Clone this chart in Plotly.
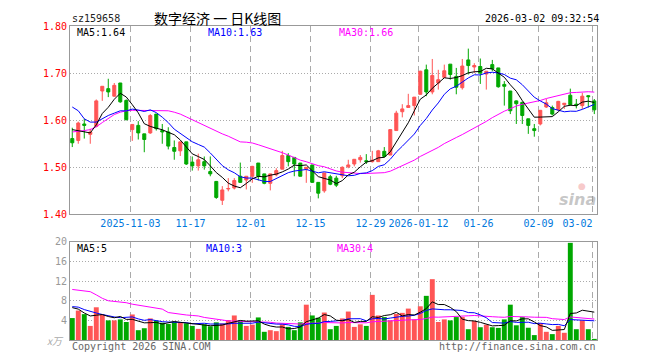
import plotly.graph_objects as go
import pandas as pd

# ---------------- data ----------------
opens = [1.561, 1.557, 1.592, 1.570, 1.587, 1.662, 1.667, 1.651, 1.679, 1.642,
         1.580, 1.589, 1.571, 1.573, 1.613, 1.578, 1.575, 1.542, 1.535, 1.554,
         1.511, 1.503, 1.512, 1.491, 1.470, 1.430, 1.454, 1.456, 1.481, 1.473,
         1.481, 1.509, 1.486, 1.466, 1.484, 1.496, 1.525, 1.521, 1.509, 1.496,
         1.505, 1.468, 1.450, 1.480, 1.477, 1.482, 1.501, 1.507, 1.516, 1.514,
         1.512, 1.512, 1.534, 1.526, 1.578, 1.618, 1.627, 1.631, 1.655, 1.707,
         1.660, 1.679, 1.691, 1.719, 1.693, 1.669, 1.728, 1.713, 1.714, 1.698,
         1.718, 1.711, 1.676, 1.662, 1.641, 1.638, 1.603, 1.582, 1.592, 1.628,
         1.627, 1.622, 1.633, 1.653, 1.634, 1.631, 1.652, 1.641]
highs = [1.584, 1.597, 1.603, 1.582, 1.644, 1.672, 1.688, 1.679, 1.679, 1.644,
         1.591, 1.598, 1.571, 1.613, 1.613, 1.592, 1.585, 1.557, 1.554, 1.554,
         1.523, 1.529, 1.523, 1.523, 1.471, 1.460, 1.477, 1.477, 1.510, 1.481,
         1.503, 1.509, 1.486, 1.486, 1.498, 1.535, 1.530, 1.521, 1.509, 1.500,
         1.505, 1.468, 1.488, 1.484, 1.482, 1.502, 1.516, 1.517, 1.526, 1.528,
         1.535, 1.537, 1.543, 1.580, 1.620, 1.634, 1.656, 1.649, 1.705, 1.718,
         1.730, 1.707, 1.718, 1.719, 1.711, 1.730, 1.752, 1.721, 1.731, 1.704,
         1.728, 1.711, 1.683, 1.662, 1.642, 1.638, 1.603, 1.592, 1.621, 1.645,
         1.631, 1.641, 1.636, 1.667, 1.645, 1.658, 1.653, 1.645]
lows = [1.543, 1.550, 1.561, 1.550, 1.585, 1.641, 1.649, 1.650, 1.637, 1.600,
        1.556, 1.559, 1.532, 1.571, 1.578, 1.550, 1.538, 1.516, 1.524, 1.505,
        1.493, 1.493, 1.495, 1.481, 1.433, 1.420, 1.449, 1.453, 1.467, 1.453,
        1.467, 1.472, 1.464, 1.451, 1.481, 1.496, 1.502, 1.481, 1.481, 1.467,
        1.467, 1.434, 1.446, 1.462, 1.458, 1.477, 1.498, 1.502, 1.510, 1.507,
        1.510, 1.512, 1.521, 1.526, 1.578, 1.606, 1.626, 1.610, 1.654, 1.651,
        1.655, 1.665, 1.690, 1.686, 1.655, 1.665, 1.697, 1.700, 1.677, 1.665,
        1.704, 1.669, 1.631, 1.613, 1.592, 1.592, 1.571, 1.565, 1.589, 1.626,
        1.610, 1.620, 1.624, 1.631, 1.625, 1.624, 1.627, 1.613]
closes = [1.552, 1.594, 1.589, 1.575, 1.641, 1.672, 1.660, 1.674, 1.639, 1.601,
          1.591, 1.573, 1.559, 1.610, 1.582, 1.575, 1.545, 1.534, 1.554, 1.507,
          1.503, 1.516, 1.503, 1.486, 1.436, 1.452, 1.455, 1.472, 1.468, 1.481,
          1.502, 1.481, 1.466, 1.486, 1.493, 1.525, 1.512, 1.507, 1.481, 1.500,
          1.468, 1.445, 1.488, 1.464, 1.462, 1.500, 1.505, 1.517, 1.521, 1.512,
          1.515, 1.535, 1.523, 1.580, 1.615, 1.624, 1.631, 1.649, 1.704, 1.660,
          1.695, 1.686, 1.705, 1.697, 1.670, 1.715, 1.716, 1.716, 1.700, 1.704,
          1.709, 1.671, 1.672, 1.620, 1.635, 1.610, 1.589, 1.578, 1.621, 1.637,
          1.613, 1.640, 1.636, 1.633, 1.632, 1.651, 1.650, 1.622]
# volume in 万
volumes = [4.47, 6.0, 5.27, 2.87, 6.67, 5.13, 4.0, 4.0, 4.2, 3.67,
           5.2, 2.0, 2.4, 4.4, 3.93, 3.53, 3.27, 3.73, 3.53, 3.4,
           2.87, 2.27, 3.2, 2.8, 3.6, 3.33, 4.07, 5.0, 3.93, 2.87,
           3.13, 4.6, 1.67, 2.0, 1.8, 3.2, 2.67, 2.0, 3.6, 7.2,
           5.0, 4.53, 5.6, 2.2, 2.87, 4.4, 5.8, 2.67, 3.2, 2.87,
           9.2, 5.0, 4.67, 4.0, 5.33, 5.53, 6.4, 4.2, 6.87, 9.0,
           12.4, 3.67, 4.2, 4.0, 4.67, 4.67, 2.2, 3.87, 2.6, 3.13,
           2.6, 2.47, 4.2, 7.2, 3.0, 4.67, 2.5, 1.0, 3.47, 1.67,
           1.2, 2.87, 1.47, 19.8, 2.2, 4.0, 2.2, 0.2]

# moving-average values at the start of the window (history before the first bar)
ma5_head = [1.580, 1.578, 1.575, 1.573]
ma10_head = [1.628, 1.620, 1.603, 1.596, 1.596, 1.603, 1.610, 1.615, 1.620]
ma30_head = [1.575, 1.576, 1.578, 1.580, 1.586, 1.595, 1.604, 1.612, 1.617, 1.620,
             1.621, 1.621, 1.621, 1.621, 1.621, 1.621, 1.620, 1.617, 1.613, 1.607,
             1.601, 1.595, 1.589, 1.582, 1.576, 1.571, 1.566, 1.560, 1.554]
vma5_head = [6.6, 6.3, 5.5, 4.9]
vma10_head = [6.8, 6.7, 6.2, 5.8, 5.5, 5.2, 4.9, 4.7, 4.55]
vma30_head = [10.3, 10.1, 10.0, 9.85, 9.2, 8.5, 8.0, 7.9, 7.8, 7.6,
              7.3, 7.1, 6.95, 6.8, 6.6, 6.3, 5.6, 5.4, 5.15, 5.1,
              5.0, 4.9, 4.6, 4.4, 4.2, 4.0, 3.9, 3.85, 3.8]

tick_index = [10, 20, 30, 40, 50, 58, 68, 78, 87]
tick_labels = ["2025-11-03", "11-17", "12-01", "12-15", "12-29",
               "2026-01-12", "01-26", "02-09", "03-02"]
price_ticks = [1.40, 1.50, 1.60, 1.70, 1.80]
vol_ticks = [4, 8, 12, 16, 20]

code = "sz159658"
title = "数字经济 一 日K线图"
stamp = "2026-03-02 09:32:54"


def moving(values, n, head):
    s = pd.Series(values).rolling(n).mean().tolist()
    return head + s[len(head):]


ma5 = moving(closes, 5, ma5_head)
ma10 = moving(closes, 10, ma10_head)
ma30 = moving(closes, 30, ma30_head)
vma5 = moving(volumes, 5, vma5_head)
vma10 = moving(volumes, 10, vma10_head)
vma30 = moving(volumes, 30, vma30_head)

RED = "#FF5555"
GREEN = "#00A800"
MONO = "DejaVu Sans Mono"

idx = list(range(len(closes)))
vol_colors = [RED if c >= o else GREEN for o, c in zip(opens, closes)]

fig = go.Figure()
fig.add_trace(go.Candlestick(
    x=idx, open=opens, high=highs, low=lows, close=closes,
    increasing=dict(line=dict(color=RED, width=1), fillcolor=RED),
    decreasing=dict(line=dict(color=GREEN, width=1), fillcolor=GREEN),
    whiskerwidth=0, xaxis="x", yaxis="y", hoverinfo="skip"))
for vals, col in [(ma30, "#FF00FF"), (ma10, "#0000FF"), (ma5, "#000000")]:
    fig.add_trace(go.Scatter(x=idx, y=vals, mode="lines", line=dict(color=col, width=1),
                             xaxis="x", yaxis="y", hoverinfo="skip"))

fig.add_trace(go.Bar(x=idx, y=volumes, marker=dict(color=vol_colors, line=dict(width=0)),
                     width=0.82, xaxis="x2", yaxis="y2", hoverinfo="skip"))
for vals, col in [(vma30, "#FF00FF"), (vma10, "#0000FF"), (vma5, "#000000")]:
    fig.add_trace(go.Scatter(x=idx, y=vals, mode="lines", line=dict(color=col, width=1),
                             xaxis="x2", yaxis="y2", hoverinfo="skip"))

# page has an 8px default body margin: the figure starts at page (8, 8)
OFF = 8
W, H = 652, 352
PL, PR, PT, PB = 70, 597, 20, 340          # plot area in page pixels
L, R, T, B = PL - OFF, OFF + W - PR, PT - OFF, OFF + H - PB
PW, PH = PR - PL, PB - PT


def px(x):
    return (x - PL) / PW


def py(y):
    return (PB - y) / PH


xr = [-0.38, 87.45]
tv = [i - 0.3 for i in tick_index]
# the last label sits flush left of its grid line, as in the reference
shown_labels = tick_labels[:-1] + [tick_labels[-1] + "\u00a0" * 5]
grid_common = dict(showgrid=True, gridcolor="#AAAAAA", gridwidth=1,
                   showline=True, linecolor="#999999", linewidth=1, mirror=True,
                   zeroline=False, ticks="")

fig.update_layout(
    width=W, height=H, margin=dict(l=L, r=R, t=T, b=B, pad=0),
    paper_bgcolor="white", plot_bgcolor="white", showlegend=False,
    boxgap=0.28,
    xaxis=dict(domain=[0, 1], anchor="y", range=xr, tickvals=tv, ticktext=shown_labels,
               griddash="6px,4px", rangeslider=dict(visible=False),
               tickfont=dict(family=MONO, size=10, color="#0077DD"), **grid_common),
    yaxis=dict(domain=[py(212), 1.0], anchor="x", range=[1.40, 1.80], tickvals=price_ticks,
               ticktext=["%.2f" % v for v in price_ticks], griddash="1px,2px",
               tickfont=dict(family=MONO, size=10, color="#FF0000"), **grid_common),
    xaxis2=dict(domain=[0, 1], anchor="y2", range=xr, tickvals=tv, showticklabels=False,
                griddash="6px,4px", **grid_common),
    yaxis2=dict(domain=[0, py(240)], anchor="x2", range=[0, 20], tickvals=vol_ticks,
                ticktext=[str(v) for v in vol_ticks], griddash="1px,2px",
                tickfont=dict(family=MONO, size=10, color="#999999"), **grid_common),
)


def note(text, x, y, color="#000", size=10, family=MONO, anchor="left", **kw):
    fig.add_annotation(text=text, x=px(x), y=py(y), xref="paper", yref="paper",
                       xanchor=anchor, yanchor="middle", showarrow=False,
                       font=dict(family=family, size=size, color=color), **kw)


note(code, 70, 12, "#222")
note(title, 152, 12, "#000", size=14, family="Noto Sans CJK SC")
note(stamp, 601, 12, "#000", anchor="right")
note("MA5:%.2f" % ma5[-1], 75, 27, "#000")
note("MA10:%.2f" % ma10[-1], 206, 27, "#0000FF")
note("MA30:%.2f" % ma30[-1], 337, 27, "#FF00FF")
note("MA5:%d" % int(vma5[-1]), 75, 247, "#000")
note("MA10:%d" % int(vma10[-1]), 204, 247, "#0000FF")
note("MA30:%d" % int(vma30[-1]), 335, 247, "#FF00FF")
note("<i>x万</i>", 66, 340, "#AAAAAA", anchor="right", family="Noto Sans CJK SC", size=10)
note("Copyright 2026 SINA.COM", 70, 347, "#666666")
note("http://finance.sina.com.cn", 598, 347, "#666666", anchor="right")
note("<b><i>sina</i></b>", 598, 197, "rgba(150,150,150,0.55)", anchor="right",
     family="DejaVu Sans", size=16)
note("●", 582, 183, "rgba(240,150,150,0.5)", anchor="center", family="DejaVu Sans", size=9)

fig.write_html("out.html", config=dict(displayModeBar=False))
